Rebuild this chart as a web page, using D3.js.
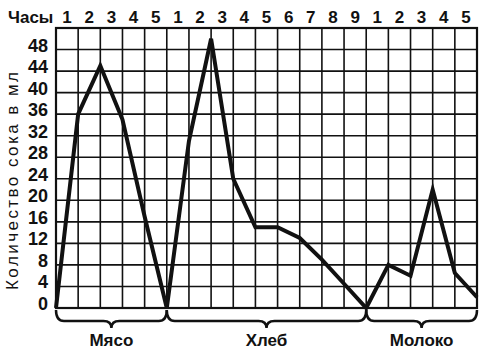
<!DOCTYPE html>
<html>
<head>
<meta charset="utf-8">
<script src="https://cdn.jsdelivr.net/npm/d3@7"></script>
<style>
  body { margin: 0; background: #fff; }
  svg { display: block; }
  text { font-family: "Liberation Sans", Arial, sans-serif; fill: #111; }
</style>
</head>
<body>
<div id="chart"></div>
<script>
// groups of food and hours per group
const groups = ["Мясо", "Хлеб", "Молоко"];
const hoursPerGroup = [5, 9, 5];

// amount of juice (ml) at every hour mark, starting at 0
const meat = [0, 36, 45, 35, 17, 0];
const bread = [0, 31, 50, 24, 15, 15, 13, 9, 4.5, 0];
const milk = [0, 8, 6, 22, 6.5, 2];

const yTicks = [0, 4, 8, 12, 16, 20, 24, 28, 32, 36, 40, 44, 48];
const yTitle = "Количество сока в мл";
const hoursTitle = "Часы";

const width = 485, height = 356;
const svg = d3.select("#chart").append("svg")
    .attr("width", width)
    .attr("height", height);

const totalCols = d3.sum(hoursPerGroup);
const x = d3.scaleLinear().domain([0, totalCols]).range([56, 477]);
const y = d3.scaleLinear().domain([0, 52]).range([308, 28]);

// grid
const grid = svg.append("g").attr("stroke", "#111");
grid.selectAll(".vline")
    .data(d3.range(0, totalCols + 1))
    .enter().append("line")
    .attr("x1", d => x(d)).attr("x2", d => x(d))
    .attr("y1", y(52)).attr("y2", y(0))
    .attr("stroke-width", 1.6);
grid.selectAll(".hline")
    .data(yTicks.concat([52]))
    .enter().append("line")
    .attr("x1", x(0)).attr("x2", x(totalCols))
    .attr("y1", d => y(d)).attr("y2", d => y(d))
    .attr("stroke-width", 1.6);
svg.append("rect")
    .attr("x", x(0)).attr("y", y(52))
    .attr("width", x(totalCols) - x(0)).attr("height", y(0) - y(52))
    .attr("fill", "none").attr("stroke", "#111").attr("stroke-width", 2.2);

// y tick labels
svg.selectAll(".ytick")
    .data(yTicks)
    .enter().append("text")
    .attr("x", 48)
    .attr("y", d => y(d) + 2)
    .attr("text-anchor", "end")
    .style("font-size", "18px")
    .style("font-weight", "bold")
    .text(d => d);

// y title
svg.append("text")
    .attr("transform", "translate(18,181) rotate(-90)")
    .attr("text-anchor", "middle")
    .style("font-size", "17px")
    .attr("textLength", 218)
    .attr("lengthAdjust", "spacing")
    .text(yTitle);

// hours header
svg.append("text")
    .attr("x", 8).attr("y", 23)
    .style("font-size", "17px")
    .style("font-weight", "bold")
    .text(hoursTitle);

let offset = 0;
const hourLabels = [];
hoursPerGroup.forEach(n => {
    for (let i = 1; i <= n; i++) hourLabels.push({ col: offset + i - 0.5, label: i });
    offset += n;
});
svg.selectAll(".hour")
    .data(hourLabels)
    .enter().append("text")
    .attr("x", d => x(d.col))
    .attr("y", 23)
    .attr("text-anchor", "middle")
    .style("font-size", "17px")
    .style("font-weight", "bold")
    .text(d => d.label);

// line data
const series = [meat, bread, milk];
const points = [];
offset = 0;
series.forEach((vals, gi) => {
    vals.forEach((v, i) => {
        if (gi > 0 && i === 0) return;
        points.push([offset + i, v]);
    });
    offset += hoursPerGroup[gi];
});

svg.append("path")
    .datum(points)
    .attr("fill", "none")
    .attr("stroke", "#111")
    .attr("stroke-width", 4)
    .attr("stroke-linejoin", "miter")
    .attr("d", d3.line().x(d => x(d[0])).y(d => y(d[1])));

// braces and group names
function brace(x0, x1, top) {
    const h = 11, r = 8, mid = (x0 + x1) / 2;
    return "M" + x0 + "," + top +
        " Q" + x0 + "," + (top + h) + " " + (x0 + r) + "," + (top + h) +
        " L" + (mid - r) + "," + (top + h) +
        " Q" + mid + "," + (top + h) + " " + mid + "," + (top + h + 7) +
        " Q" + mid + "," + (top + h) + " " + (mid + r) + "," + (top + h) +
        " L" + (x1 - r) + "," + (top + h) +
        " Q" + x1 + "," + (top + h) + " " + x1 + "," + top;
}

offset = 0;
groups.forEach((g, i) => {
    const x0 = x(offset), x1 = x(offset + hoursPerGroup[i]);
    svg.append("path")
        .attr("d", brace(x0, x1, 310))
        .attr("fill", "none")
        .attr("stroke", "#111")
        .attr("stroke-width", 2.5);
    svg.append("text")
        .attr("x", (x0 + x1) / 2)
        .attr("y", 346)
        .attr("text-anchor", "middle")
        .style("font-size", "17px")
        .style("font-weight", "bold")
        .text(g);
    offset += hoursPerGroup[i];
});
</script>
</body>
</html>
